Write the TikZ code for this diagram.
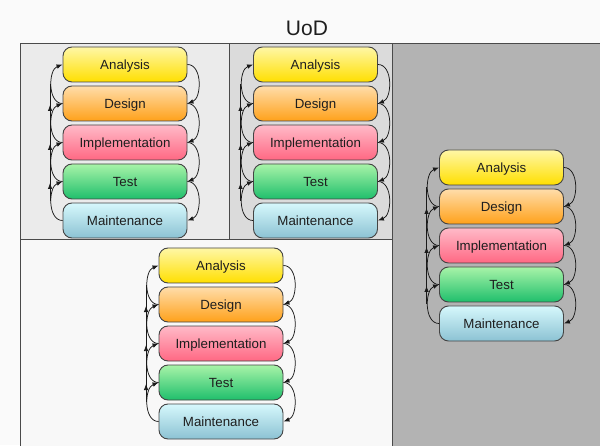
\documentclass[tikz,border=0pt]{standalone}
\usepackage{fontspec}
\setmainfont{Liberation Sans}
\usetikzlibrary{arrows.meta,decorations.markings}
\definecolor{bgc}{HTML}{FAFAFA}
\definecolor{frame}{HTML}{4A4A4A}
\definecolor{pone}{HTML}{EBEBEB}
\definecolor{ptwo}{HTML}{DBDBDB}
\definecolor{pthree}{HTML}{F8F8F8}
\definecolor{pfour}{HTML}{B3B3B3}
\definecolor{boxline}{HTML}{444444}
\definecolor{txt}{HTML}{1E1E1E}
\definecolor{arcc}{HTML}{1A1A1A}
\definecolor{anaT}{HTML}{FFF7A6}
\definecolor{anaB}{HTML}{FFDF00}
\definecolor{desT}{HTML}{FFDDAA}
\definecolor{desB}{HTML}{FFA11A}
\definecolor{impT}{HTML}{FFBAC8}
\definecolor{impB}{HTML}{FF6883}
\definecolor{tesT}{HTML}{A8F3A8}
\definecolor{tesB}{HTML}{1FBF6C}
\definecolor{maiT}{HTML}{D6F8FC}
\definecolor{maiB}{HTML}{8CC2D3}
\tikzset{
  stage/.style={draw=boxline, line width=0.9pt, rounded corners=9pt,
    minimum width=124pt, minimum height=35pt, inner sep=0pt,
    text height=12pt, text depth=1.5pt,
    font=\fontsize{13.3}{16}\selectfont, text=txt},
  ana/.style={top color=anaT, bottom color=anaB},
  des/.style={top color=desT, bottom color=desB},
  imp/.style={top color=impT, bottom color=impB},
  tes/.style={top color=tesT, bottom color=tesB},
  mai/.style={top color=maiT, bottom color=maiB},
  panel/.style={draw=frame, line width=1pt},
  fwd/.style={draw=arcc, line width=0.75pt, -{Latex[length=6pt,width=4.6pt]}},
  trunk/.style={draw=arcc, line width=0.75pt, postaction={decorate},
    decoration={markings,
      mark=at position 18pt with {\arrow{Latex[length=6pt,width=4.6pt]}},
      mark=at position 57pt with {\arrow{Latex[length=6pt,width=4.6pt]}},
      mark=at position 96pt with {\arrow{Latex[length=6pt,width=4.6pt]}}}}
}
\newcommand{\drawstack}[3]{%
  \node[stage, ana] (#1a) at (#2,#3) {Analysis};
  \node[stage, des] (#1d) at (#2,#3-39) {Design};
  \node[stage, imp] (#1i) at (#2,#3-78) {Implementation};
  \node[stage, tes] (#1t) at (#2,#3-117) {Test};
  \node[stage, mai] (#1m) at (#2,#3-156) {Maintenance};
  \draw[fwd] (#1a.east) to[out=0,in=20] (#1d.east);
  \draw[fwd] (#1d.east) to[out=0,in=20] (#1i.east);
  \draw[fwd] (#1i.east) to[out=0,in=20] (#1t.east);
  \draw[fwd] (#1t.east) to[out=0,in=20] (#1m.east);
  \draw[fwd] (#1m.west) to[out=180,in=200] (#1t.west);
  \draw[fwd] (#1t.west) to[out=180,in=200] (#1i.west);
  \draw[fwd] (#1i.west) to[out=180,in=200] (#1d.west);
  \draw[fwd] (#1d.west) to[out=180,in=200] (#1a.west);
  \draw[trunk] ([xshift=-12.5pt,yshift=-19.5pt]#1t.west) -- ([xshift=-12.5pt,yshift=19.5pt]#1d.west);
}
\begin{document}
\begin{tikzpicture}[x=1pt,y=1pt]
  \useasboundingbox (0,0) rectangle (600,445);
  \fill[bgc] (0,0) rectangle (600,445);
  \node[font=\fontsize{21}{25}\selectfont, text=txt] (title) at (307,417) {UoD};
  \filldraw[panel, fill=pone] (20,205) rectangle (229,401);
  \filldraw[panel, fill=ptwo] (229,205) rectangle (392,401);
  \filldraw[panel, fill=pthree] (20,-2) rectangle (392,205);
  \filldraw[panel, fill=pfour] (392,-2) rectangle (602,401);
  \drawstack{A}{125}{380.5}
  \drawstack{B}{315.5}{380.5}
  \drawstack{C}{221}{179.5}
  \drawstack{D}{501.5}{277.5}
\end{tikzpicture}
\end{document}
